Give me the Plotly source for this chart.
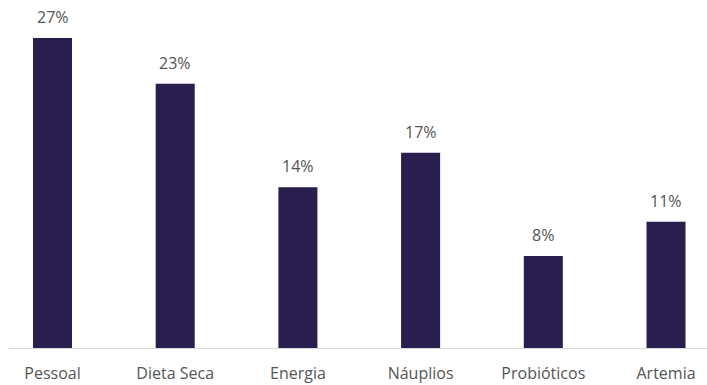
import plotly.graph_objects as go

# Cost breakdown by category (percent)
categories = ["Pessoal", "Dieta Seca", "Energia", "Náuplios", "Probióticos", "Artemia"]
shares = [27, 23, 14, 17, 8, 11]
labels = [f"{v}%" for v in shares]

bar_color = "#2a1e4e"
text_color = "#555555"
font_family = "Open Sans"

fig = go.Figure(
    go.Bar(
        x=categories,
        y=shares,
        width=0.318,
        marker=dict(color=bar_color, line=dict(width=0)),
        hoverinfo="skip",
    )
)

for cat, val, lab in zip(categories, shares, labels):
    fig.add_annotation(
        x=cat, y=val, text=lab, showarrow=False,
        yanchor="bottom", yshift=8,
        font=dict(family=font_family, size=16, color=text_color),
    )

fig.update_layout(
    width=707, height=385,
    margin=dict(l=9, r=0, t=0, b=37),
    paper_bgcolor="white", plot_bgcolor="white",
    showlegend=False,
    font=dict(family=font_family, size=16, color=text_color),
    xaxis=dict(
        range=[-0.3545, 5.334],
        showline=True, linecolor="#d9d9d9", linewidth=1,
        showgrid=False, zeroline=False,
        ticks="", ticklabelstandoff=11,
        tickfont=dict(family=font_family, size=16, color=text_color),
        fixedrange=True,
    ),
    yaxis=dict(
        range=[0, 30.3], visible=False, fixedrange=True,
    ),
)

fig.write_html("out.html")
